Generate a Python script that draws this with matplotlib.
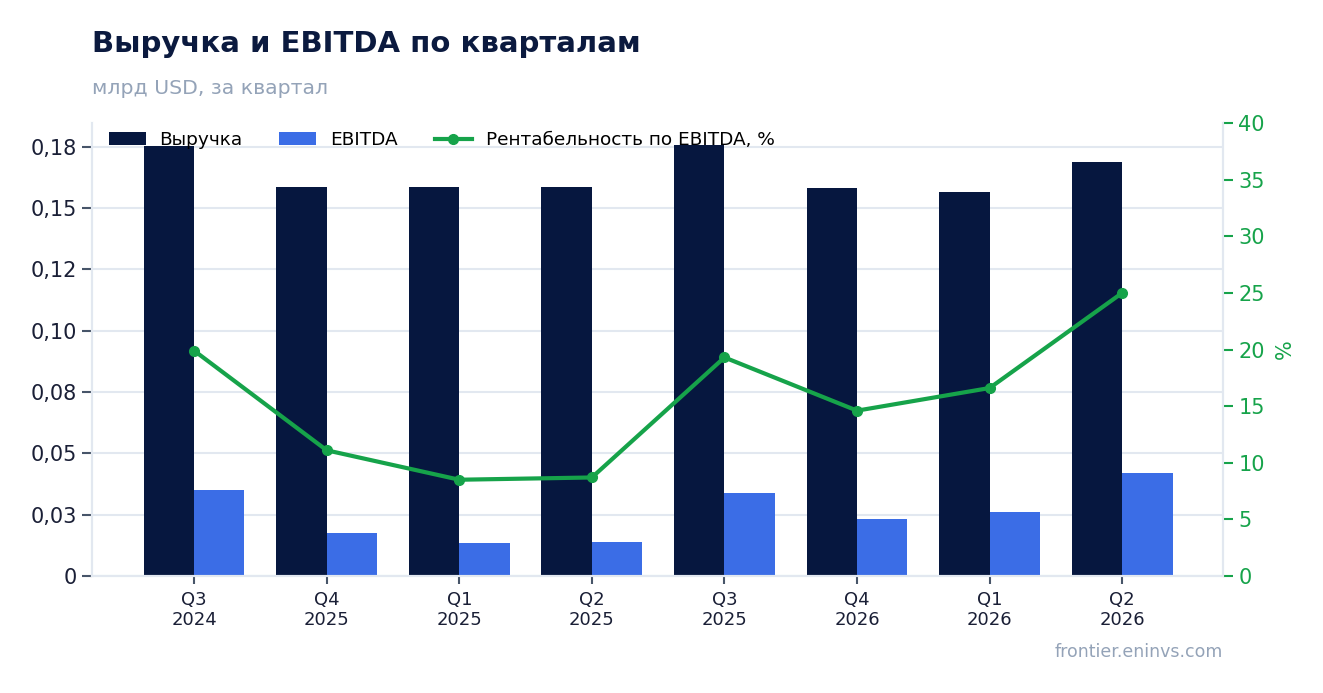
import matplotlib
matplotlib.use("Agg")
import matplotlib.pyplot as plt
import numpy as np
from matplotlib.ticker import MultipleLocator

quarters = ["Q3\n2024", "Q4\n2025", "Q1\n2025", "Q2\n2025", "Q3\n2025", "Q4\n2026", "Q1\n2026", "Q2\n2026"]
revenue = [0.1752, 0.1586, 0.1586, 0.1586, 0.1758, 0.1582, 0.1566, 0.1688]
ebitda = [0.0349, 0.0176, 0.0135, 0.0139, 0.0339, 0.0232, 0.0261, 0.0421]
margin = [19.9, 11.1, 8.5, 8.7, 19.3, 14.6, 16.6, 25.0]
left_ticks = [0, 0.025, 0.05, 0.075, 0.1, 0.125, 0.15, 0.175]
left_tick_labels = ["0", "0,03", "0,05", "0,08", "0,10", "0,12", "0,15", "0,18"]

NAVY = "#06173f"
BLUE = "#3b6de6"
GREEN = "#16a34a"
GRID = "#e2e8f0"
GRAY = "#94a3b8"
TXT = "#1a1f36"

plt.rcParams['font.family'] = ['DejaVu Sans']

fig = plt.figure(figsize=(13.23, 6.93), dpi=100)
ax = fig.add_axes([92/1323, 1-576/693, (1223-92)/1323, (576-123)/693])
ax2 = ax.twinx()

x = np.arange(len(quarters))
w = 0.38
ax.bar(x - w/2, revenue, w, color=NAVY, label="Выручка", zorder=2)
ax.bar(x + w/2, ebitda, w, color=BLUE, label="EBITDA", zorder=2)
ax2.plot(x, margin, color=GREEN, lw=3, marker="o", ms=7, label="Рентабельность по EBITDA, %", zorder=3)

ax.set_xlim(-0.77, len(quarters) - 1 + 0.76)
ax.set_ylim(0, max(revenue) * 1.05)
ax2.set_ylim(0, 40)
ax.set_yticks(left_ticks)
ax.set_yticklabels(left_tick_labels)
ax2.yaxis.set_major_locator(MultipleLocator(5))

ax.set_xticks(x)
ax.set_xticklabels(quarters, fontsize=13, color=TXT)
ax.grid(axis="y", color=GRID, lw=1.5, zorder=0)
ax.set_axisbelow(True)

for a in (ax, ax2):
    for s in a.spines.values():
        s.set_color(GRID)
        s.set_linewidth(1.5)
    a.spines["top"].set_visible(False)
ax.tick_params(axis="y", labelsize=15, colors=TXT, length=7, width=1.5, color="#475569", pad=4)
ax.tick_params(axis="x", length=6, width=1.5, color="#475569", pad=4.5)
ax2.tick_params(axis="y", labelsize=15, colors=GREEN, length=7, width=1.5, color=GREEN, pad=4)
ax2.set_ylabel("%", color=GREEN, fontsize=15, labelpad=7)

h1, l1 = ax.get_legend_handles_labels()
h2, l2 = ax2.get_legend_handles_labels()
leg = ax.legend(h1 + h2, l1 + l2, loc="upper left", ncol=3, frameon=False, fontsize=13.3,
                bbox_to_anchor=(0.0, 1.019), handlelength=2.0, columnspacing=2.0, handletextpad=0.75)
leg.set_zorder(5)

fig.text(92/1323, 1-44/693, "Выручка и EBITDA по кварталам", fontsize=21, fontweight="bold",
         color="#0b1a3f", va="center", ha="left")
fig.text(92/1323, 1-88/693, "млрд USD, за квартал", fontsize=14.7, color=GRAY, va="center", ha="left")
fig.text(1223/1323, 1-652/693, "frontier.eninvs.com", fontsize=12.5, color=GRAY, va="center", ha="right")

fig.savefig("out.png", dpi=100)
